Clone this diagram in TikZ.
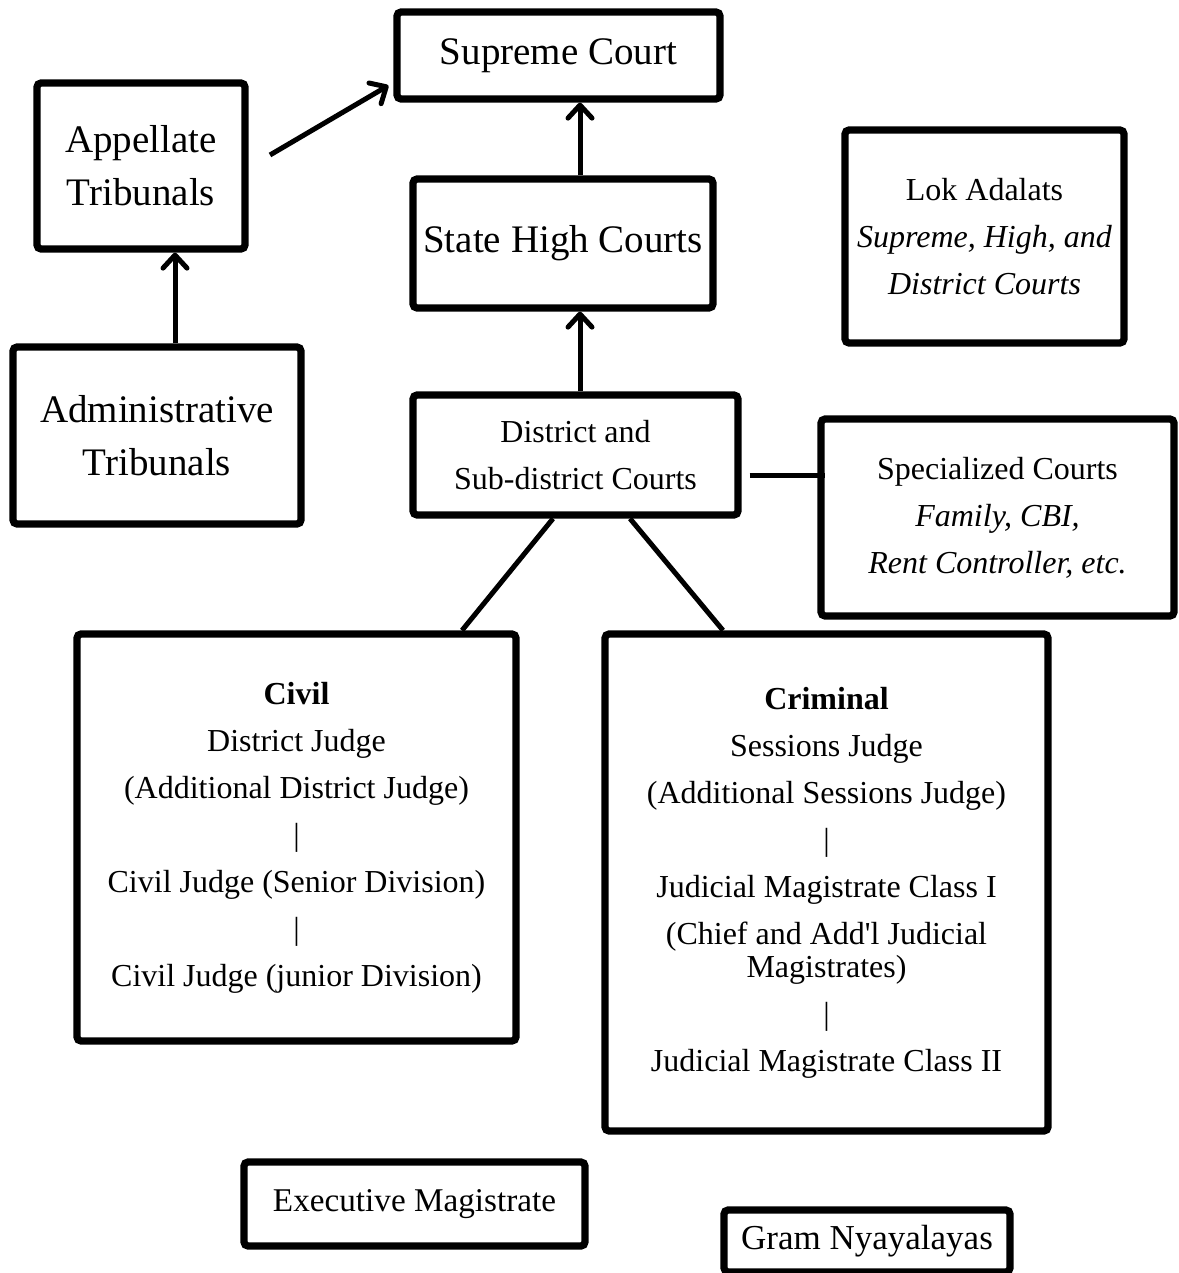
\documentclass[tikz,border=0pt]{standalone}
\usepackage{fontspec}
\setmainfont{Liberation Serif}
\newfontfamily\plainq{Liberation Serif}
\usetikzlibrary{arrows.meta,shadows}
\begin{document}
\begin{tikzpicture}[x=0.5pt,y=-0.5pt,
  box/.style={draw, line width=3.6pt, rounded corners=2pt, fill=white, inner sep=0pt, align=center,
    drop shadow={shadow xshift=1pt, shadow yshift=-1.5pt, opacity=0.18}},
  big/.style={font=\fontsize{19.5pt}{26.5pt}\selectfont},
  small/.style={font=\fontsize{16pt}{23.5pt}\selectfont},
  conn/.style={line width=2.5pt},
  arr/.style={conn, -{Straight Barb[length=6.5pt,width=12pt,round]}}]
\useasboundingbox (0,0) rectangle (1178,1273);

\node[box,big,minimum width=161.5pt,minimum height=43.5pt] (sc) at (558.5,55.5) {Supreme Court};
\node[box,big,minimum width=104pt,minimum height=83pt] (app) at (141,166) {Appellate\\Tribunals};
\node[box,big,minimum width=150pt,minimum height=64.5pt] (shc) at (563,243.5) {State High Courts};
\node[box,small,minimum width=139.5pt,minimum height=106.5pt] (lok) at (984.5,236.5)
  {Lok Adalats\\\textit{Supreme, High, and}\\\textit{District Courts}};
\node[box,big,minimum width=144pt,minimum height=88.5pt] (adm) at (157,435.5) {Administrative\\Tribunals};
\node[box,small,minimum width=162.5pt,minimum height=60pt] (dist) at (575.5,455) {District and\\Sub-district Courts};
\node[box,small,minimum width=176.5pt,minimum height=98.5pt] (spec) at (997.5,517.5)
  {Specialized Courts\\\textit{Family, CBI,}\\\textit{Rent Controller, etc.}};
\node[box,small,minimum width=219.5pt,minimum height=203.5pt] (civ) at (296.5,837.5)
  {\textbf{Civil}\\District Judge\\(Additional District Judge)\\|\\Civil Judge (Senior Division)\\|\\Civil Judge (junior Division)};
\node[box,small,minimum width=221.5pt,minimum height=248.5pt] (crim) at (826.5,882.5)
  {\textbf{Criminal}\\Sessions Judge\\(Additional Sessions Judge)\\|\\Judicial Magistrate Class I\\(Chief and Add{\plainq'}l Judicial\\[-7pt]Magistrates)\\|\\Judicial Magistrate Class II};
\node[box,font=\fontsize{16.6pt}{20pt}\selectfont,minimum width=170.5pt,minimum height=42pt] (exe) at (414.5,1204) {Executive Magistrate};
\node[box,font=\fontsize{17.5pt}{20pt}\selectfont,minimum width=143pt,minimum height=31pt] (gram) at (867,1241) {Gram Nyayalayas};

\coordinate (appstart) at (270,155);
\draw[arr] (appstart) -- ([shift={(-5,30)}]sc.west);
\draw[arr] ([xshift=8.5pt]shc.north) -- ([xshift=8.5pt]shc.north |- sc.south);
\draw[arr] ([xshift=2.25pt]dist.north) -- ([xshift=2.25pt]dist.north |- shc.south);
\draw[arr] ([xshift=9pt]adm.north) -- ([xshift=9pt]adm.north |- app.south);
\draw[conn] ([shift={(8,20)}]dist.east) -- ([shift={(8,20)}]dist.east -| spec.west);
\draw[conn] ([xshift=-11.25pt]dist.south) -- ([xshift=82.75pt]civ.north);
\draw[conn] ([xshift=27.25pt]dist.south) -- ([xshift=-51.75pt]crim.north);
\end{tikzpicture}
\end{document}
